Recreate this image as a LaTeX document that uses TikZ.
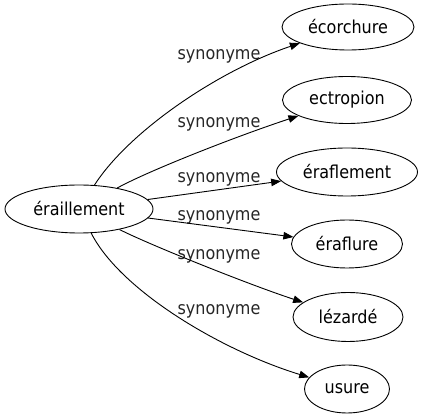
\documentclass[tikz,border=0pt]{standalone}
\usepackage{fontspec}
\setmainfont{DejaVu Sans}[FakeStretch=0.9]
\usetikzlibrary{shapes.geometric,arrows.meta}
\tikzset{
  word/.style={ellipse,draw,line width=0.9pt,inner sep=0pt,font=\fontsize{17.8}{20}\selectfont},
  rel/.style={font=\fontsize{17.8}{20}\selectfont,text=black!85,anchor=base,inner sep=0pt},
  link/.style={line width=0.9pt,-{Triangle[length=10pt,width=7.5pt]}}
}
\begin{document}
\begin{tikzpicture}[x=1pt,y=-1pt]
\useasboundingbox (0,0) rectangle (424,419);
\node[word,minimum width=148pt,minimum height=48pt] (c) at (79,209) {éraillement};
\node[word,minimum width=132pt,minimum height=46pt] (n1) at (348,27) {écorchure};
\node[word,minimum width=129pt,minimum height=47pt] (n2) at (347,100) {ectropion};
\node[word,minimum width=141pt,minimum height=48pt] (n3) at (347,172) {éraflement};
\node[word,minimum width=111pt,minimum height=48pt] (n4) at (347,244) {éraflure};
\node[word,minimum width=110pt,minimum height=49pt] (n5) at (348,317) {lézardé};
\node[word,minimum width=85pt,minimum height=48pt] (n6) at (347,389) {usure};
\node[rel] (l1) at (219,59.5) {synonyme};
\node[rel] (l2) at (219,127.5) {synonyme};
\node[rel] (l3) at (219,182.5) {synonyme};
\node[rel] (l4) at (219,220.5) {synonyme};
\node[rel] (l5) at (219,259.5) {synonyme};
\node[rel] (l6) at (219,314.5) {synonyme};
\draw[link] (c) .. controls (130,130) and (220,70) .. (n1);
\draw[link] (c) .. controls (150,170) and (240,135) .. (n2);
\draw[link] (c) -- (n3);
\draw[link] (c) -- (n4);
\draw[link] (c) .. controls (150,245) and (250,285) .. (n5);
\draw[link] (c) .. controls (120,290) and (220,350) .. (n6);
\end{tikzpicture}
\end{document}
